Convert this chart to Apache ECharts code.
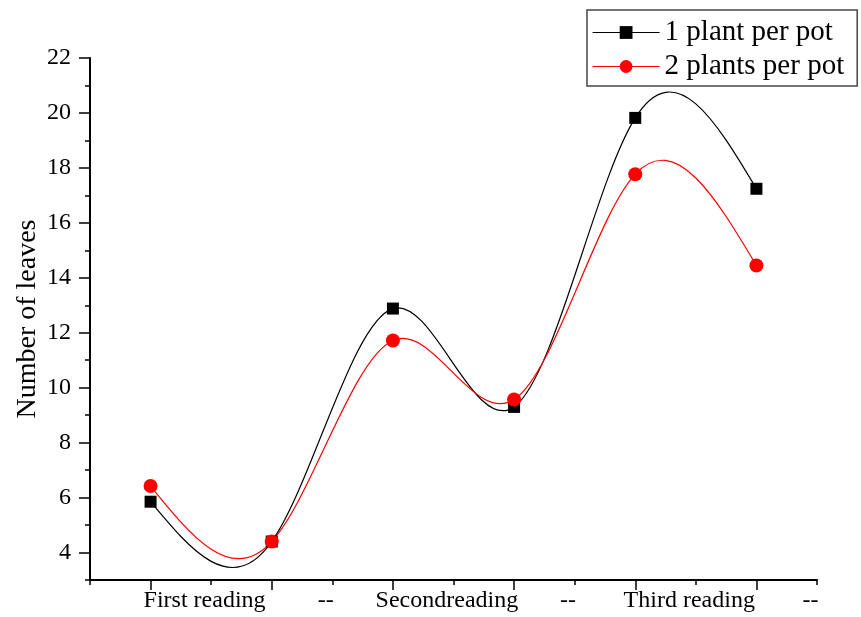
<!DOCTYPE html>
<html>
<head>
<meta charset="utf-8">
<script src="https://cdn.jsdelivr.net/npm/echarts@6/dist/echarts.min.js"></script>
<style>
  html, body { margin: 0; padding: 0; background: #fff; }
  #chart { width: 861px; height: 617px; }
</style>
</head>
<body>
<div id="chart"></div>
<script>
// Reading slots along the x axis
const readings = ['First reading', '--', 'Secondreading', '--', 'Third reading', '--'];

// Mean number of leaves per plant at each reading
const onePlantPerPot = [5.85, 4.4, 12.88, 9.3, 19.82, 17.24];
const twoPlantsPerPot = [6.42, 4.4, 11.72, 9.57, 17.77, 14.45];

// Y axis: labelled major ticks and unlabelled minor ticks
const yMajorTicks = [4, 6, 8, 10, 12, 14, 16, 18, 20, 22];
const yMinorTicks = [3, 5, 7, 9, 11, 13, 15, 17, 19, 21];

const serif = "'Liberation Serif', 'Times New Roman', serif";

// Natural cubic spline through pixel points, returned as one cubic
// Bezier per segment (exact representation of the spline pieces).
function splineSegments(pts) {
  const n = pts.length;
  const h = [];
  for (let i = 0; i < n - 1; i++) h.push(pts[i + 1][0] - pts[i][0]);
  const M = new Array(n).fill(0);
  if (n > 2) {
    const a = [], b = [], c = [], d = [];
    for (let i = 1; i < n - 1; i++) {
      a.push(h[i - 1]);
      b.push(2 * (h[i - 1] + h[i]));
      c.push(h[i]);
      d.push(6 * ((pts[i + 1][1] - pts[i][1]) / h[i] - (pts[i][1] - pts[i - 1][1]) / h[i - 1]));
    }
    const m = b.length;
    for (let i = 1; i < m; i++) {
      const w = a[i] / b[i - 1];
      b[i] -= w * c[i - 1];
      d[i] -= w * d[i - 1];
    }
    const sol = new Array(m);
    sol[m - 1] = d[m - 1] / b[m - 1];
    for (let i = m - 2; i >= 0; i--) sol[i] = (d[i] - c[i] * sol[i + 1]) / b[i];
    for (let i = 0; i < m; i++) M[i + 1] = sol[i];
  }
  const segs = [];
  for (let i = 0; i < n - 1; i++) {
    const hi = h[i];
    const slope = (pts[i + 1][1] - pts[i][1]) / hi;
    const d0 = slope - hi * (2 * M[i] + M[i + 1]) / 6;
    const d1 = slope + hi * (M[i] + 2 * M[i + 1]) / 6;
    segs.push({
      x1: pts[i][0], y1: pts[i][1],
      cpx1: pts[i][0] + hi / 3, cpy1: pts[i][1] + d0 * hi / 3,
      cpx2: pts[i + 1][0] - hi / 3, cpy2: pts[i + 1][1] - d1 * hi / 3,
      x2: pts[i + 1][0], y2: pts[i + 1][1]
    });
  }
  return segs;
}

// Custom series drawing the spline segment that starts at each data point
function splineSeries(name, values, color) {
  return {
    name: name,
    type: 'custom',
    xAxisIndex: 0,
    yAxisIndex: 0,
    data: values.map((v, i) => [i, v]),
    silent: true,
    z: 2,
    renderItem: function (params, api) {
      const i = params.dataIndex;
      if (i >= values.length - 1) return null;
      const pts = values.map((v, k) => api.coord([k, v]));
      const seg = splineSegments(pts)[i];
      return {
        type: 'bezierCurve',
        shape: seg,
        style: { stroke: color, lineWidth: 1.2, fill: null }
      };
    }
  };
}

const chart = echarts.init(document.getElementById('chart'), null, { renderer: 'canvas' });

chart.setOption({
  backgroundColor: '#fff',
  animation: false,
  grid: { left: 90, right: 44, top: 58, bottom: 37, containLabel: false },
  legend: {
    orient: 'vertical',
    left: 587,
    top: 10,
    padding: [8, 13, 5, 5],
    itemWidth: 67,
    itemHeight: 16,
    itemGap: 5,
    borderColor: '#444',
    borderWidth: 1.5,
    lineStyle: { opacity: 1, width: 1.2 },
    textStyle: { fontFamily: serif, fontSize: 29, color: '#000', lineHeight: 27 },
    data: ['1 plant per pot', '2 plants per pot']
  },
  xAxis: [
    {
      type: 'category',
      data: readings,
      boundaryGap: true,
      axisLine: { lineStyle: { color: '#000', width: 2 } },
      axisTick: { show: true, inside: false, length: 5, lineStyle: { color: '#000', width: 1.5 } },
      axisLabel: {
        interval: 0,
        margin: 9,
        padding: [0, 0, 0, 108],
        fontFamily: serif,
        fontSize: 24,
        color: '#000'
      },
      splitLine: { show: false }
    },
    {
      type: 'category',
      data: readings,
      boundaryGap: true,
      position: 'bottom',
      axisLine: { show: false },
      axisTick: { show: true, alignWithLabel: true, length: 10, lineStyle: { color: '#000', width: 1.5 } },
      axisLabel: { show: false },
      splitLine: { show: false }
    }
  ],
  yAxis: [
    {
      type: 'value',
      min: 3,
      max: 22,
      name: 'Number of leaves',
      nameLocation: 'middle',
      nameRotate: 90,
      nameGap: 48,
      nameMoveOverlap: false,
      nameTextStyle: { fontFamily: serif, fontSize: 28, color: '#000' },
      axisLine: { show: true, lineStyle: { color: '#000', width: 2 } },
      axisTick: { show: true, length: 11, customValues: yMajorTicks, lineStyle: { color: '#000', width: 1.5 } },
      axisLabel: { customValues: yMajorTicks, margin: 19, fontFamily: serif, fontSize: 24, color: '#000' },
      splitLine: { show: false }
    },
    {
      type: 'value',
      min: 3,
      max: 22,
      position: 'left',
      axisLine: { show: false },
      axisTick: { show: true, length: 5, customValues: yMinorTicks, lineStyle: { color: '#000', width: 1.5 } },
      axisLabel: { show: false },
      splitLine: { show: false }
    }
  ],
  series: [
    splineSeries('spline-1', onePlantPerPot, '#000'),
    {
      name: '1 plant per pot',
      type: 'line',
      xAxisIndex: 0,
      yAxisIndex: 0,
      data: onePlantPerPot,
      symbol: 'rect',
      symbolSize: 12,
      itemStyle: { color: '#000' },
      lineStyle: { color: '#000', width: 1.2, opacity: 0 },
      z: 3
    },
    splineSeries('spline-2', twoPlantsPerPot, '#ff0000'),
    {
      name: '2 plants per pot',
      type: 'line',
      xAxisIndex: 0,
      yAxisIndex: 0,
      data: twoPlantsPerPot,
      symbol: 'circle',
      symbolSize: 14,
      itemStyle: { color: '#ff0000' },
      lineStyle: { color: '#ff0000', width: 1.2, opacity: 0 },
      z: 4
    }
  ]
});
</script>
</body>
</html>
